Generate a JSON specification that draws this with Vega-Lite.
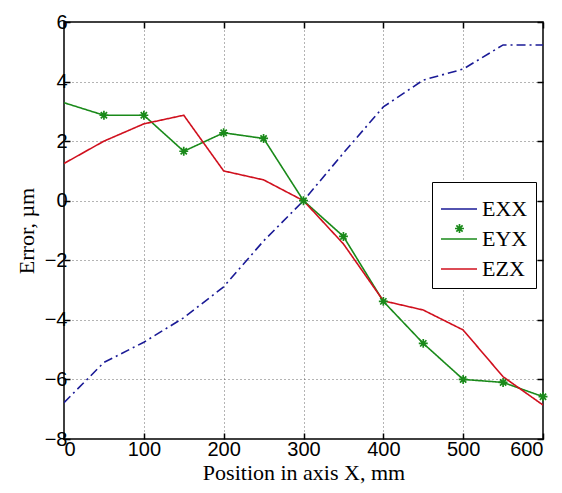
{
  "$schema": "https://vega.github.io/schema/vega-lite/v6.json",
  "width": 479,
  "height": 417,
  "autosize": {"type": "none"},
  "padding": {"left": 64, "top": 22, "right": 19, "bottom": 54},
  "background": "white",
  "data": {"values": [
    {"x": 0, "series": "EXX", "value": -6.78},
    {"x": 50, "series": "EXX", "value": -5.43},
    {"x": 100, "series": "EXX", "value": -4.75},
    {"x": 150, "series": "EXX", "value": -3.93},
    {"x": 200, "series": "EXX", "value": -2.89},
    {"x": 250, "series": "EXX", "value": -1.35},
    {"x": 300, "series": "EXX", "value": 0},
    {"x": 350, "series": "EXX", "value": 1.6},
    {"x": 400, "series": "EXX", "value": 3.15},
    {"x": 450, "series": "EXX", "value": 4.05},
    {"x": 500, "series": "EXX", "value": 4.42},
    {"x": 550, "series": "EXX", "value": 5.23},
    {"x": 600, "series": "EXX", "value": 5.23},
    {"x": 0, "series": "EYX", "value": 3.29},
    {"x": 50, "series": "EYX", "value": 2.87},
    {"x": 100, "series": "EYX", "value": 2.87},
    {"x": 150, "series": "EYX", "value": 1.66},
    {"x": 200, "series": "EYX", "value": 2.28},
    {"x": 250, "series": "EYX", "value": 2.09},
    {"x": 300, "series": "EYX", "value": 0},
    {"x": 350, "series": "EYX", "value": -1.2},
    {"x": 400, "series": "EYX", "value": -3.38},
    {"x": 450, "series": "EYX", "value": -4.79},
    {"x": 500, "series": "EYX", "value": -6.0},
    {"x": 550, "series": "EYX", "value": -6.1},
    {"x": 600, "series": "EYX", "value": -6.58},
    {"x": 0, "series": "EZX", "value": 1.25},
    {"x": 50, "series": "EZX", "value": 2.0},
    {"x": 100, "series": "EZX", "value": 2.58},
    {"x": 150, "series": "EZX", "value": 2.87},
    {"x": 200, "series": "EZX", "value": 1.0},
    {"x": 250, "series": "EZX", "value": 0.7},
    {"x": 300, "series": "EZX", "value": 0},
    {"x": 350, "series": "EZX", "value": -1.45},
    {"x": 400, "series": "EZX", "value": -3.36},
    {"x": 450, "series": "EZX", "value": -3.67},
    {"x": 500, "series": "EZX", "value": -4.34},
    {"x": 550, "series": "EZX", "value": -5.91},
    {"x": 600, "series": "EZX", "value": -6.86}
  ]},
  "layer": [
    {
      "mark": {"type": "line", "strokeWidth": 1.6, "clip": true},
      "encoding": {
        "x": {"field": "x", "type": "quantitative",
              "scale": {"domain": [0, 600], "nice": false, "zero": false},
              "axis": {"orient": "bottom", "values": [0,100,200,300,400,500,600], "title": "Position in axis X, mm", "grid": true}},
        "y": {"field": "value", "type": "quantitative",
              "scale": {"domain": [-8, 6], "nice": false, "zero": false},
              "axis": {"orient": "left", "values": [-8,-6,-4,-2,0,2,4,6], "title": "Error, µm", "grid": true}},
        "color": {"field": "series", "type": "nominal",
                  "scale": {"domain": ["EXX", "EYX", "EZX"], "range": ["#1a1a96", "#1a8a1a", "#d0101e"]},
                  "legend": {"orient": "none", "legendX": 368, "legendY": 160, "title": null,
                             "symbolType": "stroke", "symbolSize": 1300, "symbolStrokeWidth": 1.6,
                             "labelFont": "Liberation Serif", "labelFontSize": 22, "labelColor": "black", "labelOffset": 4,
                             "strokeColor": "black", "fillColor": "white", "padding": 8, "rowPadding": -12}},
        "strokeDash": {"field": "series", "type": "nominal",
                       "scale": {"domain": ["EXX", "EYX", "EZX"], "range": [[9, 4, 2, 4], [1, 0], [1, 0]]},
                       "legend": null}
      }
    },
    {
      "transform": [{"filter": "datum.series === 'EYX' && datum.x > 0"}],
      "mark": {"type": "point", "filled": false, "strokeWidth": 1.7, "stroke": "#1a8a1a", "size": 80, "opacity": 1},
      "encoding": {
        "x": {"field": "x", "type": "quantitative",
              "axis": {"values": [0,100,200,300,400,500,600], "labels": false, "title": null, "grid": false}},
        "y": {"field": "value", "type": "quantitative",
              "axis": {"values": [-8,-6,-4,-2,0,2,4,6], "labels": false, "title": null, "grid": false}},
        "shape": {"field": "series", "type": "nominal",
                  "scale": {"domain": ["EYX"], "range": ["M-1,0L1,0M0,-1L0,1M-0.7,-0.7L0.7,0.7M-0.7,0.7L0.7,-0.7"]},
                  "legend": {"orient": "none", "legendX": 390, "legendY": 201, "title": null,
                             "symbolSize": 80, "symbolStrokeColor": "#1a8a1a", "symbolFillColor": "transparent",
                             "symbolStrokeWidth": 1.7, "labelExpr": "''", "labelFontSize": 1,
                             "strokeColor": "transparent", "fillColor": "transparent", "padding": 0}}
      }
    }
  ],
  "resolve": {"axis": {"x": "independent", "y": "independent"}, "legend": {"shape": "independent", "color": "independent"}},
  "config": {
    "view": {"stroke": "black", "strokeWidth": 1.5},
    "axis": {
      "domain": false,
      "tickColor": "black",
      "tickSize": -6,
      "tickWidth": 1.5,
      "labelFont": "Liberation Sans",
      "labelFontSize": 20,
      "labelColor": "black",
      "titleFont": "Liberation Serif",
      "titleFontSize": 22,
      "titleFontWeight": "normal",
      "titleColor": "black",
      "gridColor": "#444",
      "gridDash": [1, 3],
      "gridWidth": 1,
      "gridOpacity": 0.8
    },
    "axisBottom": {"labelPadding": 6, "titlePadding": 3},
    "axisLeft": {"labelPadding": 3, "titlePadding": 6}
  }
}
